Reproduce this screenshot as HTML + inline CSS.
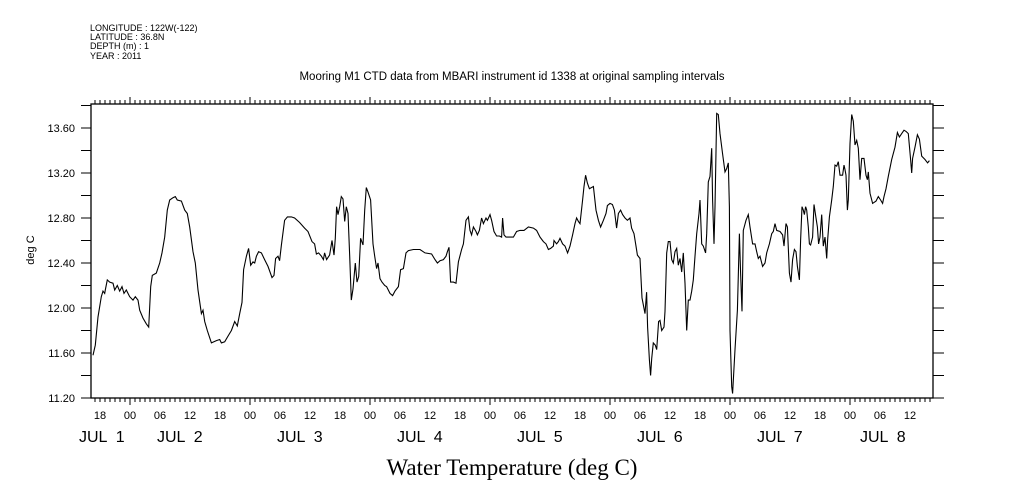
<!DOCTYPE html>
<html><head><meta charset="utf-8"><style>
body{margin:0;background:#fff;width:1009px;height:504px;overflow:hidden}
svg{display:block}
text{font-family:"Liberation Sans",sans-serif;fill:#000}
</style></head><body>
<svg id="chart" width="1009" height="504" viewBox="0 0 1009 504" xmlns="http://www.w3.org/2000/svg">
<g font-size="9">
<text x="90" y="31" font-size="9">LONGITUDE : 122W(-122)</text>
<text x="90" y="40" font-size="9">LATITUDE : 36.8N</text>
<text x="90" y="49" font-size="9">DEPTH (m) : 1</text>
<text x="90" y="59" font-size="9">YEAR : 2011</text>
</g>
<text x="512" y="80" font-size="11.5" text-anchor="middle">Mooring M1 CTD data from MBARI instrument id 1338 at original sampling intervals</text>
<text x="34" y="250" font-size="11" text-anchor="middle" transform="rotate(-90 34 250)">deg C</text>
<text x="512" y="475" font-size="23" text-anchor="middle" style="font-family:'Liberation Serif',serif">Water Temperature (deg C)</text>
<g id="axes"></g>
<g id="series"></g>
</svg>
<script>
const hours=[16.6,17.07,17.6,18.27,18.6,18.93,19.07,19.47,19.93,20.6,20.93,21.47,21.93,22.4,22.8,23.27,23.93,24.6,25.07,25.6,25.93,26.6,27.27,27.73,28.13,28.47,29.27,29.93,30.4,30.93,31.47,31.93,32.6,33.07,33.47,34.27,34.93,35.47,35.93,36.6,37.07,37.6,38.27,38.6,38.93,39.47,40.27,41.27,41.93,42.27,42.93,43.6,44.27,44.93,45.47,45.93,46.4,46.73,47.27,47.73,48.13,48.6,48.93,49.27,49.73,50.27,50.93,51.6,52.4,52.8,53.13,53.6,53.93,54.27,54.93,55.47,56.27,56.93,57.93,58.93,59.6,60.4,60.93,61.27,61.73,62.27,62.67,62.93,63.33,63.93,64.4,64.8,65.07,65.33,65.6,65.93,66.27,66.6,66.93,67.27,67.6,67.93,68.27,68.6,69.07,69.4,69.73,70.13,70.6,70.93,71.27,71.6,72.13,72.6,72.93,73.33,73.6,74.0,74.4,74.93,75.33,76.0,76.53,77.0,77.67,78.13,78.67,79.2,79.67,80.67,82.0,83.0,84.33,85.0,85.47,86.0,86.67,87.2,87.47,87.8,88.13,88.67,89.2,89.67,90.33,90.67,91.2,91.67,92.0,92.33,92.67,93.2,93.47,93.87,94.33,94.67,95.2,95.47,96.0,96.33,96.8,97.33,97.87,98.33,98.53,98.8,99.2,99.67,100.13,100.67,101.33,102.0,102.8,103.67,104.67,105.33,106.0,106.67,107.2,107.67,108.13,108.67,108.8,109.33,109.67,110.0,110.53,111.0,111.53,112.0,112.53,113.0,113.33,113.67,114.0,114.53,114.8,115.13,115.47,115.87,116.67,117.2,117.67,118.13,118.67,119.2,119.47,120.0,120.47,120.87,121.33,121.67,122.13,122.53,123.0,123.47,124.0,124.33,124.8,125.2,125.47,126.0,126.4,127.0,127.33,127.53,127.87,128.13,128.33,128.67,129.07,129.33,129.73,130.0,130.33,130.8,131.0,131.33,131.67,132.0,132.33,132.67,133.0,133.33,133.67,134.0,134.33,134.67,135.0,135.33,135.67,136.0,136.33,136.67,137.0,137.33,137.8,138.0,138.33,138.67,139.13,139.33,139.67,140.0,140.33,140.53,140.8,141.0,141.33,141.67,142.0,142.53,143.0,143.33,143.67,143.87,144.0,144.33,144.53,145.0,145.47,145.87,146.13,146.4,146.67,147.2,147.67,148.0,148.53,149.0,149.33,149.67,150.0,150.53,151.0,151.33,151.87,152.33,152.67,153.0,153.33,154.0,154.53,154.8,155.2,155.47,155.87,156.2,156.53,156.87,157.2,157.47,157.87,158.13,158.4,158.67,158.87,159.13,159.33,159.67,159.87,160.13,160.53,160.8,161.2,161.47,161.73,162.0,162.33,162.67,163.0,163.33,163.53,163.87,164.33,164.67,165.0,165.33,165.67,166.0,166.53,166.8,167.0,167.2,167.47,167.67,168.0,168.33,168.67,169.0,169.33,169.67,170.0,170.33,170.8,171.2,171.47,171.67,172.0,172.53,173.2,173.67,174.13,174.53,174.8,175.2,175.67,176.33,177.0,177.47,177.87,178.33,178.8,179.2,179.67,180.13,180.33,180.53,181.0,181.47,181.87,182.33,183.0,183.53,183.87];
const temps=[11.58,11.67,11.92,12.10,12.15,12.13,12.16,12.25,12.23,12.22,12.16,12.20,12.15,12.19,12.13,12.16,12.10,12.07,12.10,12.07,11.98,11.91,11.86,11.83,12.19,12.29,12.31,12.40,12.49,12.63,12.87,12.96,12.98,12.99,12.96,12.95,12.87,12.84,12.72,12.50,12.40,12.16,11.95,11.98,11.88,11.80,11.69,11.71,11.72,11.69,11.70,11.75,11.80,11.88,11.84,11.95,12.05,12.34,12.46,12.53,12.38,12.41,12.40,12.46,12.50,12.49,12.43,12.37,12.27,12.29,12.44,12.46,12.42,12.56,12.78,12.81,12.81,12.80,12.76,12.71,12.68,12.59,12.57,12.48,12.49,12.46,12.43,12.49,12.43,12.47,12.60,12.47,12.62,12.90,12.83,12.90,12.99,12.97,12.77,12.90,12.84,12.46,12.07,12.17,12.40,12.23,12.28,12.62,12.56,12.87,13.07,13.03,12.96,12.57,12.46,12.35,12.40,12.26,12.23,12.20,12.19,12.13,12.11,12.15,12.19,12.34,12.35,12.49,12.51,12.52,12.52,12.49,12.48,12.43,12.40,12.42,12.43,12.46,12.50,12.54,12.23,12.23,12.22,12.41,12.52,12.57,12.78,12.81,12.69,12.65,12.72,12.68,12.65,12.69,12.80,12.75,12.80,12.78,12.83,12.78,12.68,12.64,12.64,12.63,12.80,12.65,12.63,12.63,12.63,12.63,12.68,12.69,12.69,12.72,12.71,12.69,12.63,12.59,12.57,12.52,12.53,12.55,12.60,12.57,12.59,12.62,12.57,12.55,12.49,12.55,12.65,12.75,12.80,12.77,12.75,12.96,13.08,13.18,13.11,13.06,13.08,12.87,12.78,12.72,12.78,12.84,12.91,12.93,12.92,12.87,12.71,12.84,12.87,12.83,12.80,12.78,12.80,12.71,12.66,12.55,12.47,12.44,12.09,11.95,12.14,11.83,11.54,11.40,11.55,11.69,11.67,11.63,11.88,11.89,11.80,11.83,11.97,12.49,12.59,12.59,12.43,12.40,12.50,12.53,12.38,12.44,12.32,12.49,12.22,11.80,12.07,12.07,12.15,12.25,12.46,12.66,12.84,12.96,12.57,12.55,12.49,12.66,13.12,13.17,13.42,12.96,12.57,12.90,13.73,13.72,13.55,13.37,13.21,13.24,13.29,12.90,11.80,11.30,11.24,11.63,11.98,12.66,12.31,11.97,12.69,12.78,12.83,12.72,12.57,12.57,12.50,12.44,12.46,12.37,12.40,12.49,12.57,12.66,12.68,12.75,12.69,12.68,12.65,12.55,12.75,12.72,12.31,12.23,12.43,12.52,12.50,12.37,12.25,12.60,12.90,12.87,12.83,12.90,12.87,12.72,12.57,12.56,12.63,12.92,12.80,12.72,12.57,12.63,12.83,12.55,12.63,12.44,12.60,12.81,12.96,13.08,13.27,13.26,13.30,13.18,13.18,13.27,13.23,13.18,12.87,12.96,13.46,13.72,13.66,13.45,13.49,13.42,13.14,13.33,13.33,13.18,13.14,13.21,13.02,12.93,12.95,12.99,12.96,12.93,12.99,13.06,13.17,13.32,13.43,13.56,13.52,13.55,13.58,13.57,13.55,13.32,13.20,13.33,13.43,13.54,13.50,13.35,13.32,13.29,13.31];
const yTickValues=[11.2,11.4,11.6,11.8,12.0,12.2,12.4,12.6,12.8,13.0,13.2,13.4,13.6,13.8];
const yTickLabels=["11.20","11.60","12.00","12.40","12.80","13.20","13.60"];
const hourLabelTimes=[18,24,30,36,42,48,54,60,66,72,78,84,90,96,102,108,114,120,126,132,138,144,150,156,162,168,174,180];
const dayLabels=["JUL  1","JUL  2","JUL  3","JUL  4","JUL  5","JUL  6","JUL  7","JUL  8"];

const NS="http://www.w3.org/2000/svg";
const L=91,R=933,T=104,B=398;
const xs=h=>130+(h-24)*5;
const ys=v=>B-(v-11.2)*112.5;
function mk(tag,attrs,parent,txt){const e=document.createElementNS(NS,tag);for(const k in attrs)e.setAttribute(k,attrs[k]);if(txt!==undefined)e.textContent=txt;parent.appendChild(e);return e;}
const ax=document.getElementById('axes');
const frame=mk('rect',{x:L,y:T,width:R-L,height:B-T,fill:'none',stroke:'#000','stroke-width':1.3},ax);


let d='';
for(let h=17;h<=184;h++){const x=xs(h);const big=(h%24===0);const len=big?7:4;d+=`M${x} ${T}V${T-len}M${x} ${B}V${B+len}`;}
for(const v of yTickValues){const y=ys(v);if(y<T-0.5)continue;d+=`M${L} ${y}H${L-10}M${R} ${y}H${R+11}`;}
const tk=mk('path',{d:d,stroke:'#000','stroke-width':1,fill:'none'},ax);


yTickLabels.forEach(s=>{const t=mk('text',{x:75,y:ys(parseFloat(s))+4,'font-size':11,'text-anchor':'end'},ax,s);

});
hourLabelTimes.forEach(h=>{const s=String(h%24).padStart(2,'0');const t=mk('text',{x:xs(h),y:419,'font-size':11,'text-anchor':'middle'},ax,s);

});
const dayX=[79,157,277,397,517,637,757,860];
dayLabels.forEach((s,i)=>{const t=mk('text',{x:dayX[i],y:442,'font-size':16,'xml:space':'preserve'},ax,s);
t.style.whiteSpace='pre';

});
const pts=hours.map((h,i)=>xs(h).toFixed(1)+','+ys(temps[i]).toFixed(1)).join(' ');
const line=mk('polyline',{points:pts,fill:'none',stroke:'#000','stroke-width':1.1},document.getElementById('series'));


</script>
</body></html>
